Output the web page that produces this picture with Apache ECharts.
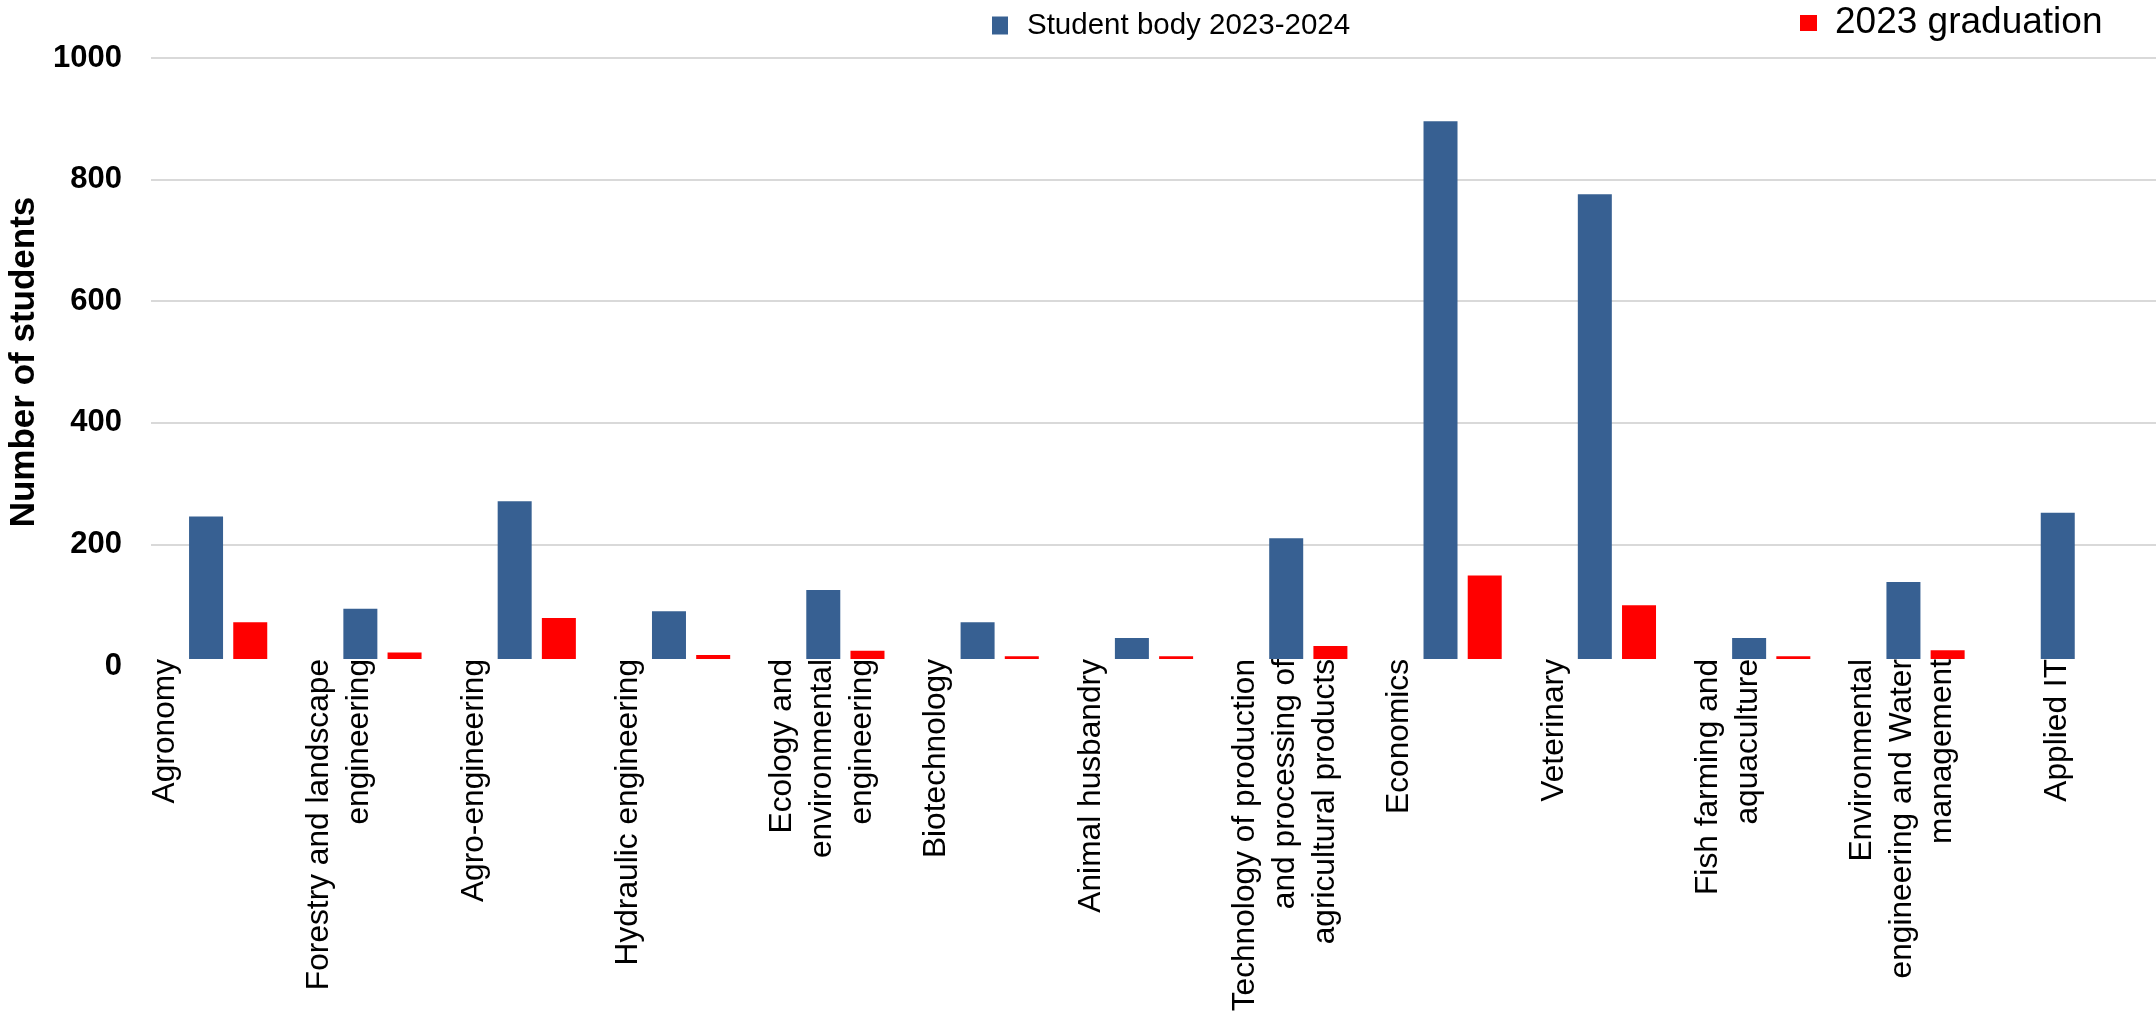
<!DOCTYPE html>
<html>
<head>
<meta charset="utf-8">
<script src="https://cdn.jsdelivr.net/npm/echarts@6/dist/echarts.min.js"></script>
<style>
html,body{margin:0;padding:0;background:#fff;}
#chart{width:2156px;height:1018px;}
</style>
</head>
<body>
<div id="chart"></div>
<script>
const categories = [
  "Agronomy",
  "Forestry and landscape\nengineering",
  "Agro-engineering",
  "Hydraulic engineering",
  "Ecology and\nenvironmental\nengineering",
  "Biotechnology",
  "Animal husbandry",
  "Technology of production\nand processing of\nagricultural products",
  "Economics",
  "Veterinary",
  "Fish farming and\naquaculture",
  "Environmental\nengineering and Water\nmanagement",
  "\nApplied IT"
];
const studentBody = [246, 94, 271, 90, 125, 72, 46, 210, 896, 776, 46, 138, 252];
const graduation2023 = [72, 22, 79, 18, 25, 16, 16, 33, 149, 100, 16, 26, 0];
const seriesNames = ["Student body 2023-2024", "2023 graduation"];
const yTicks = { min: 0, max: 1000, interval: 200 };
const yTitle = "Number of students";

const chart = echarts.init(document.getElementById('chart'));
const FONT = "'Liberation Sans', Arial, sans-serif";
chart.setOption({
  animation: false,
  backgroundColor: '#ffffff',
  grid: { left: 151, right: -1, top: 58, bottom: 352, outerBoundsMode: 'none', containLabel: false },
  legend: [
    {
      data: [seriesNames[0]], left: 992, top: 9, padding: 0,
      icon: 'rect', itemWidth: 16, itemHeight: 18,
      textStyle: { fontFamily: FONT, fontSize: 29.5, lineHeight: 33, color: '#000', padding: [0, 0, 0, 14] }
    },
    {
      data: [seriesNames[1]], left: 1800, top: 2, padding: 0,
      icon: 'rect', itemWidth: 17, itemHeight: 16,
      textStyle: { fontFamily: FONT, fontSize: 37, lineHeight: 42, color: '#000', padding: [0, 0, 0, 13] }
    }
  ],
  xAxis: {
    type: 'category',
    data: categories,
    z: 3,
    axisTick: { show: false },
    axisLine: { show: true, lineStyle: { color: '#ffffff', width: 15 } },
    axisLabel: {
      interval: 0, rotate: 90, margin: -7,
      fontFamily: FONT, fontSize: 31.7, lineHeight: 40, color: '#000',
      align: 'right', verticalAlign: 'top', padding: [-83, 0, 0, 0]
    },
    splitLine: { show: false }
  },
  yAxis: {
    type: 'value',
    min: yTicks.min, max: yTicks.max, interval: yTicks.interval,
    name: yTitle, nameLocation: 'middle', nameGap: 99, nameRotate: 90,
    nameTextStyle: { fontFamily: FONT, fontSize: 35, fontWeight: 'bold', color: '#000' },
    axisLine: { show: false }, axisTick: { show: false },
    axisLabel: { fontFamily: FONT, fontSize: 31, fontWeight: 'bold', color: '#000', margin: 29,
      formatter: function (v) { return String(v); } },
    splitLine: { show: true, lineStyle: { color: '#d9d9d9', width: 2 } }
  },
  series: [
    { name: seriesNames[0], type: 'bar', data: studentBody, barWidth: 34, barGap: '30%',
      itemStyle: { color: '#376092' } },
    { name: seriesNames[1], type: 'bar', data: graduation2023, barWidth: 34, barGap: '30%',
      itemStyle: { color: '#ff0000' } }
  ]
});
</script>
</body>
</html>
